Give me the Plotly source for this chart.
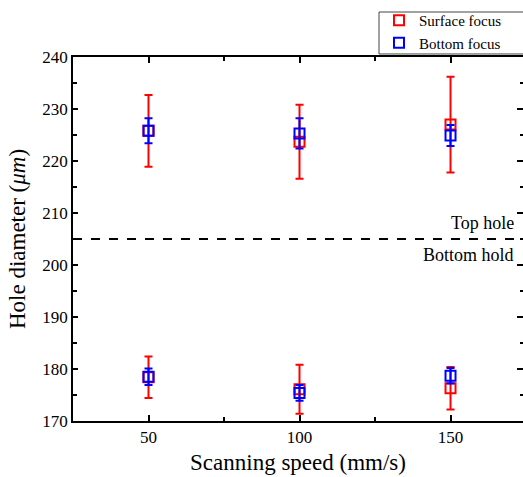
import plotly.graph_objects as go

speeds = [50, 100, 150]

# Top hole diameters
surface_top = [225.8, 223.7, 227.0]
surface_top_err = [6.9, 7.1, 9.2]
bottom_top = [225.8, 225.3, 224.9]
bottom_top_err = [2.4, 2.9, 2.0]

# Bottom hole diameters
surface_bot = [178.4, 176.1, 176.3]
surface_bot_err = [4.0, 4.7, 4.1]
bottom_bot = [178.5, 175.4, 178.7]
bottom_bot_err = [1.6, 1.5, 1.5]

divider = 205
y_range = [170, 240]
x_range = [25, 174]

FONT = "Liberation Serif"
RED = "#ff0000"
BLUE = "#0000ff"

fig = go.Figure()

def add_series(xs, ys, errs, color, name, show):
    fig.add_trace(go.Scatter(
        x=xs, y=ys, mode="markers", name=name, showlegend=show,
        marker=dict(symbol="square-open", size=10, color=color, line=dict(width=2, color=color)),
        error_y=dict(type="data", array=errs, visible=True, color=color, thickness=2, width=4),
    ))

add_series(speeds, surface_top, surface_top_err, RED, "Surface focus", True)
add_series(speeds, surface_bot, surface_bot_err, RED, "Surface focus", False)
add_series(speeds, bottom_top, bottom_top_err, BLUE, "Bottom focus", True)
add_series(speeds, bottom_bot, bottom_bot_err, BLUE, "Bottom focus", False)

# invisible trace for the right-hand tick axis
fig.add_trace(go.Scatter(x=[speeds[0]], y=[y_range[0]], yaxis="y2", mode="markers",
                         marker=dict(opacity=0), showlegend=False, hoverinfo="skip"))

fig.add_shape(type="line", xref="paper", x0=0, x1=1, yref="y", y0=divider, y1=divider,
              line=dict(color="black", width=2, dash="dash"))

# legend frame (runs past the right edge, as in the reference)
fig.add_shape(type="rect", xref="paper", x0=0.68, x1=1.1, yref="paper", y0=1.0083, y1=1.1236,
              line=dict(color="#444", width=1), fillcolor="white", layer="above")

fig.add_annotation(text="Top hole", xref="paper", x=0.984, yref="y", y=divider, yshift=16,
                   xanchor="right", showarrow=False, font=dict(family=FONT, size=18, color="black"))
fig.add_annotation(text="Bottom hold", xref="paper", x=0.984, yref="y", y=divider, yshift=-16,
                   xanchor="right", showarrow=False, font=dict(family=FONT, size=18, color="black"))

fig.update_layout(
    width=523, height=477,
    margin=dict(l=73, r=0, t=57, b=56, autoexpand=False),
    paper_bgcolor="white", plot_bgcolor="white",
    font=dict(family=FONT, color="black"),
    xaxis=dict(
        range=x_range, tickmode="linear", tick0=0, dtick=50,
        showline=True, linecolor="black", linewidth=1.5, mirror="ticks",
        ticks="inside", ticklen=6, tickwidth=1.5, tickcolor="black",
        minor=dict(ticks="inside", ticklen=4, tickwidth=1.5, tickcolor="black", dtick=25, tick0=0),
        showgrid=False, zeroline=False,
        tickfont=dict(family=FONT, size=17),
        title=dict(text="Scanning speed (mm/s)", font=dict(family=FONT, size=23), standoff=8),
    ),
    yaxis=dict(
        range=y_range, tickmode="linear", tick0=0, dtick=10,
        showline=True, linecolor="black", linewidth=1.5, mirror=False,
        ticks="inside", ticklen=5, tickwidth=1.5, tickcolor="black",
        minor=dict(ticks="inside", ticklen=4, tickwidth=1.5, tickcolor="black", dtick=5, tick0=0),
        showgrid=False, zeroline=False,
        tickfont=dict(family=FONT, size=17),
        title=dict(text="Hole diameter (<i>μm</i>)", font=dict(family=FONT, size=23), standoff=10),
    ),
    yaxis2=dict(
        range=y_range, overlaying="y", side="right", anchor="free", position=1,
        tickmode="linear", tick0=0, dtick=10, showline=False, showticklabels=False,
        ticks="inside", ticklen=6, tickwidth=1.5, tickcolor="black",
        minor=dict(ticks="inside", ticklen=3, tickwidth=1.5, tickcolor="black", dtick=5, tick0=0),
        showgrid=False, zeroline=False,
    ),
    legend=dict(
        x=0.68, y=1.1455, xanchor="left", yanchor="top",
        bgcolor="rgba(0,0,0,0)", borderwidth=0,
        font=dict(family=FONT, size=15, color="black"), tracegroupgap=0,
        itemwidth=30, orientation="v",
    ),
    showlegend=True,
)

fig.write_html("out.html")
